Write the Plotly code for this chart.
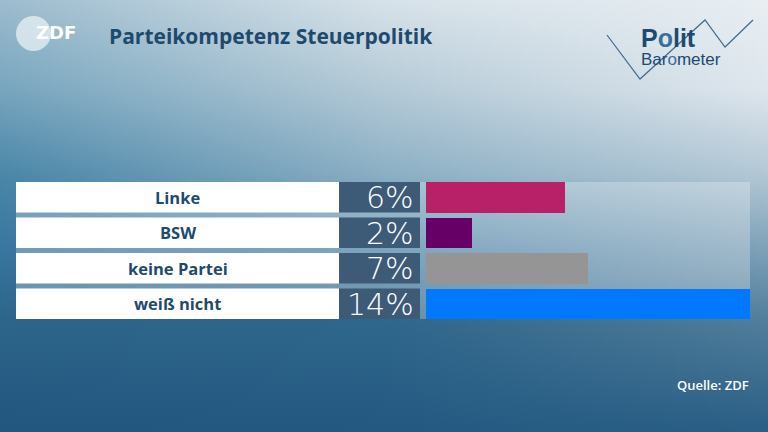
import numpy as np
import zlib, struct, base64
import plotly.graph_objects as go

# ---------------- data ----------------
categories = ["Linke", "BSW", "keine Partei", "weiß nicht"]
values = [6, 2, 7, 14]
value_labels = ["6%", "2%", "7%", "14%"]
bar_colors = ["#b82068", "#660066", "#959595", "#0078ff"]
title_text = "Parteikompetenz Steuerpolitik"
source_text = "Quelle: ZDF"

W, H = 768, 432


def px(x):
    return x / W


def py(y):
    return 1 - y / H


# ---------------- background gradient (PNG data URI) ----------------
def hex2rgb(h):
    h = h.lstrip("#")
    return [int(h[i:i + 2], 16) for i in (0, 2, 4)]


grid_y = np.array([0, 90, 175, 250, 320, 432], dtype=float)
grid_x = np.array([0, 384, 768], dtype=float)
grid_hex = [
    ["#9ebdcf", "#d8e3ea", "#e9eff3"],
    ["#78a6bf", "#b4cad7", "#dfe7ee"],
    ["#4b87a9", "#8cb0c5", "#b3c8d6"],
    ["#3a76a0", "#4f84a8", "#7fa2b9"],
    ["#2e658a", "#30678c", "#527f9d"],
    ["#22577f", "#245a82", "#2b5f85"],
]
grid = np.array([[hex2rgb(c) for c in row] for row in grid_hex], dtype=float)

lw, lh = 192, 108
yy = (np.arange(lh) + 0.5) * H / lh
xx = (np.arange(lw) + 0.5) * W / lw
col_interp = np.zeros((lh, len(grid_x), 3))
for j in range(len(grid_x)):
    for c in range(3):
        col_interp[:, j, c] = np.interp(yy, grid_y, grid[:, j, c])
img = np.zeros((lh, lw, 3))
for i in range(lh):
    for c in range(3):
        img[i, :, c] = np.interp(xx, grid_x, col_interp[i, :, c])
img = np.clip(img, 0, 255).astype(np.uint8)


def to_png(arr):
    h, w, _ = arr.shape
    raw = b"".join(b"\x00" + arr[i].tobytes() for i in range(h))

    def chunk(t, d):
        return struct.pack(">I", len(d)) + t + d + struct.pack(">I", zlib.crc32(t + d) & 0xFFFFFFFF)

    return (b"\x89PNG\r\n\x1a\n"
            + chunk(b"IHDR", struct.pack(">IIBBBBB", w, h, 8, 2, 0, 0, 0))
            + chunk(b"IDAT", zlib.compress(raw, 9))
            + chunk(b"IEND", b""))


bg_uri = "data:image/png;base64," + base64.b64encode(to_png(img)).decode()

# ---------------- figure ----------------
n = len(categories)
pitch = 35.5
bar_h = 30.5
bw = bar_h / pitch
top_px, bottom_px = 182, 319

fig = go.Figure()
fig.add_trace(go.Bar(
    orientation="h",
    x=values,
    y=list(range(n)),
    width=bw,
    marker=dict(color=bar_colors, line=dict(width=0)),
    hoverinfo="skip",
))

shapes = []
# translucent table backdrop
shapes.append(dict(type="rect", xref="paper", yref="paper",
                   x0=px(16), x1=px(750), y0=py(bottom_px), y1=py(top_px),
                   fillcolor="rgba(255,255,255,0.27)", line=dict(width=0), layer="below"))
annotations = []
for i, (cat, lab) in enumerate(zip(categories, value_labels)):
    shapes.append(dict(type="rect", xref="paper", yref="y",
                       x0=px(16), x1=px(339), y0=i - bw / 2, y1=i + bw / 2,
                       fillcolor="#ffffff", line=dict(width=0), layer="below"))
    shapes.append(dict(type="rect", xref="paper", yref="y",
                       x0=px(339), x1=px(420), y0=i - bw / 2, y1=i + bw / 2,
                       fillcolor="#3d5a77", line=dict(width=0), layer="below"))
    annotations.append(dict(xref="paper", yref="y", x=px((16 + 339) / 2), y=i,
                            text=f"<b>{cat}</b>", showarrow=False,
                            xanchor="center", yanchor="middle",
                            font=dict(family="Open Sans", size=16.5, color="#1d4a6e")))
    annotations.append(dict(xref="paper", yref="y", x=px(416), y=i + 0.02,
                            text=lab, showarrow=False,
                            xanchor="right", yanchor="middle",
                            font=dict(family="DejaVu Sans", size=30, color="#ffffff", weight=300)))

# ZDF logo
shapes.append(dict(type="circle", xref="paper", yref="paper",
                   x0=px(16), x1=px(51), y0=py(51), y1=py(16),
                   fillcolor="rgba(228,237,243,0.8)", line=dict(width=0)))
annotations.append(dict(xref="paper", yref="paper", x=px(34), y=py(33),
                        text="<b>ZDF</b>", showarrow=False, xanchor="left", yanchor="middle",
                        font=dict(family="DejaVu Sans", size=18, color="#ffffff")))
# Title
annotations.append(dict(xref="paper", yref="paper", x=px(107), y=py(36),
                        text=f"<b>{title_text}</b>", showarrow=False, xanchor="left", yanchor="middle",
                        font=dict(family="Open Sans", size=21, color="#1e4a6e")))
# PolitBarometer logo
zig = [(607, 35), (640, 79), (705, 20), (725, 47), (753, 20)]
path = "M " + " L ".join(f"{px(x):.5f},{py(y):.5f}" for x, y in zig)
shapes.append(dict(type="path", xref="paper", yref="paper", path=path,
                   line=dict(color="#3f6b90", width=1.2)))
annotations.append(dict(xref="paper", yref="paper", x=px(639), y=py(47),
                        text=("<span style='font-size:25px;font-weight:bold'>P"
                              "<span style='color:#3d6e98'>o</span>lit</span><br>"
                              "<span style='font-size:17px'>Bar<span style='color:#3d6e98'>o</span>meter</span>"),
                        showarrow=False, align="left",
                        xanchor="left", yanchor="middle",
                        font=dict(family="Liberation Sans", size=14, color="#1d4a72")))
# Source
annotations.append(dict(xref="paper", yref="paper", x=px(751), y=py(385),
                        text=source_text, showarrow=False, xanchor="right", yanchor="middle",
                        font=dict(family="Open Sans", size=13, color="#ffffff", weight=600)))

fig.update_layout(
    width=W, height=H,
    margin=dict(l=0, r=0, t=0, b=0),
    paper_bgcolor="#2b6088",
    plot_bgcolor="rgba(0,0,0,0)",
    showlegend=False,
    bargap=0,
    xaxis=dict(domain=[px(426), px(750)], range=[0, max(values)], visible=False, fixedrange=True),
    yaxis=dict(domain=[py(bottom_px), py(top_px)], range=[n - 1 + bw / 2, -bw / 2],
               visible=False, fixedrange=True),
    shapes=shapes,
    annotations=annotations,
    images=[dict(source=bg_uri, xref="paper", yref="paper", x=0, y=1, sizex=1, sizey=1,
                 sizing="stretch", layer="below", xanchor="left", yanchor="top")],
)

fig.write_html("out.html", config={"displayModeBar": False})
